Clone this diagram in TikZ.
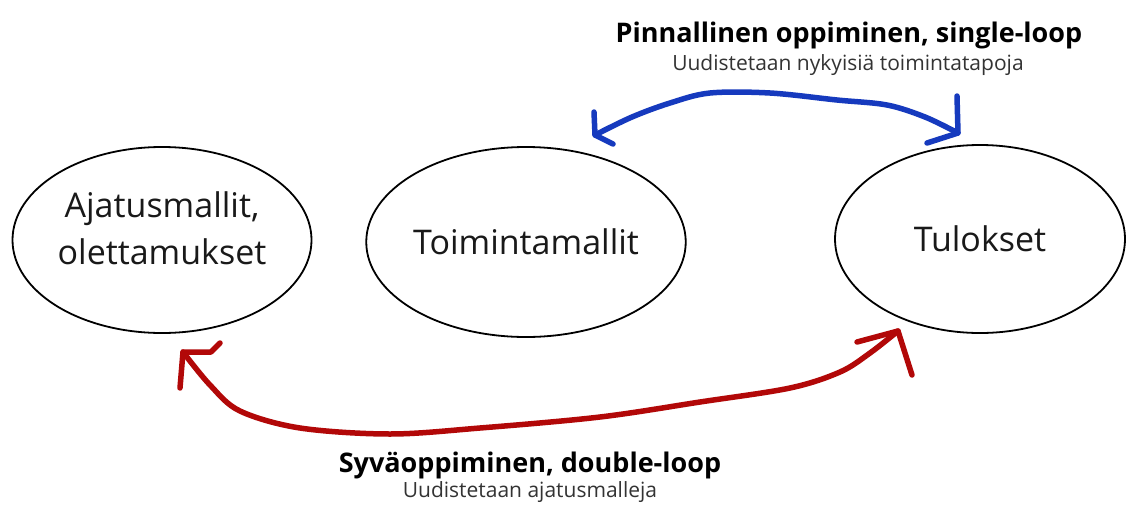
\documentclass[tikz,border=0pt]{standalone}
\usepackage{fontspec}
\setmainfont{Open Sans}
\usetikzlibrary{shapes.geometric}
\definecolor{loopblue}{RGB}{22,58,190}
\definecolor{loopred}{RGB}{178,8,8}
\begin{document}
\begin{tikzpicture}[x=1pt,y=-1pt,
 oval/.style={ellipse, draw=black, line width=1.8pt, inner sep=0pt},
 ovaltext/.style={font=\fontsize{34}{47}\selectfont, align=center, text=black!90},
 title/.style={font=\fontsize{27}{32}\selectfont\bfseries, anchor=base, inner sep=0pt},
 subtitle/.style={font=\fontsize{21}{25}\selectfont, anchor=base, text=black!80, inner sep=0pt},
 hand/.style={line width=5.5pt, line cap=round, line join=round},
]
\useasboundingbox (0,0) rectangle (1130,504);
\fill[white] (0,0) rectangle (1130,504);

\node[oval, minimum width=299pt, minimum height=186pt] (ajat) at (162,240) {};
\node[ovaltext] (ajatT) at (162,228) {Ajatusmallit,\\olettamukset};
\node[oval, ovaltext, minimum width=304pt, minimum height=190pt] (toim) at (526,242) {Toimintamallit};
\node[oval, ovaltext, minimum width=290pt, minimum height=188pt] (tulo) at (980,239) {Tulokset};

\node[title] (t1) at (849,42) {Pinnallinen oppiminen, single-loop};
\node[subtitle] (s1) at (848,70) {Uudistetaan nykyisiä toimintatapoja};
\node[title] (t2) at (530,472) {Syväoppiminen, double-loop};
\node[subtitle] (s2) at (530,497) {Uudistetaan ajatusmalleja};

\coordinate (bL) at (595,135);
\coordinate (bR) at (958,133);
\draw[hand, loopblue] plot[smooth, tension=0.55] coordinates {(bL) (632,117) (670,103) (710,93) (770,93) (837,100) (887,105) (925,117) (bR)};
\draw[hand, loopblue] (594,112) -- (bL) -- (613,144);
\draw[hand, loopblue] (957,96) -- (bR) -- (927,143);

\coordinate (rL) at (183,352);
\coordinate (rR) at (898,331);
\draw[hand, loopred] plot[smooth, tension=0.55] coordinates {(rL) (210,385) (240,411) (300,428) (390,434) (480,428) (600,417) (700,402) (790,388) (840,372) (870,353) (rR)};
\draw[hand, loopred] (180,388) -- (rL) -- (211,352) -- (220,343);
\draw[hand, loopred] (857,342) -- (rR) -- (912,375);
\end{tikzpicture}
\end{document}
